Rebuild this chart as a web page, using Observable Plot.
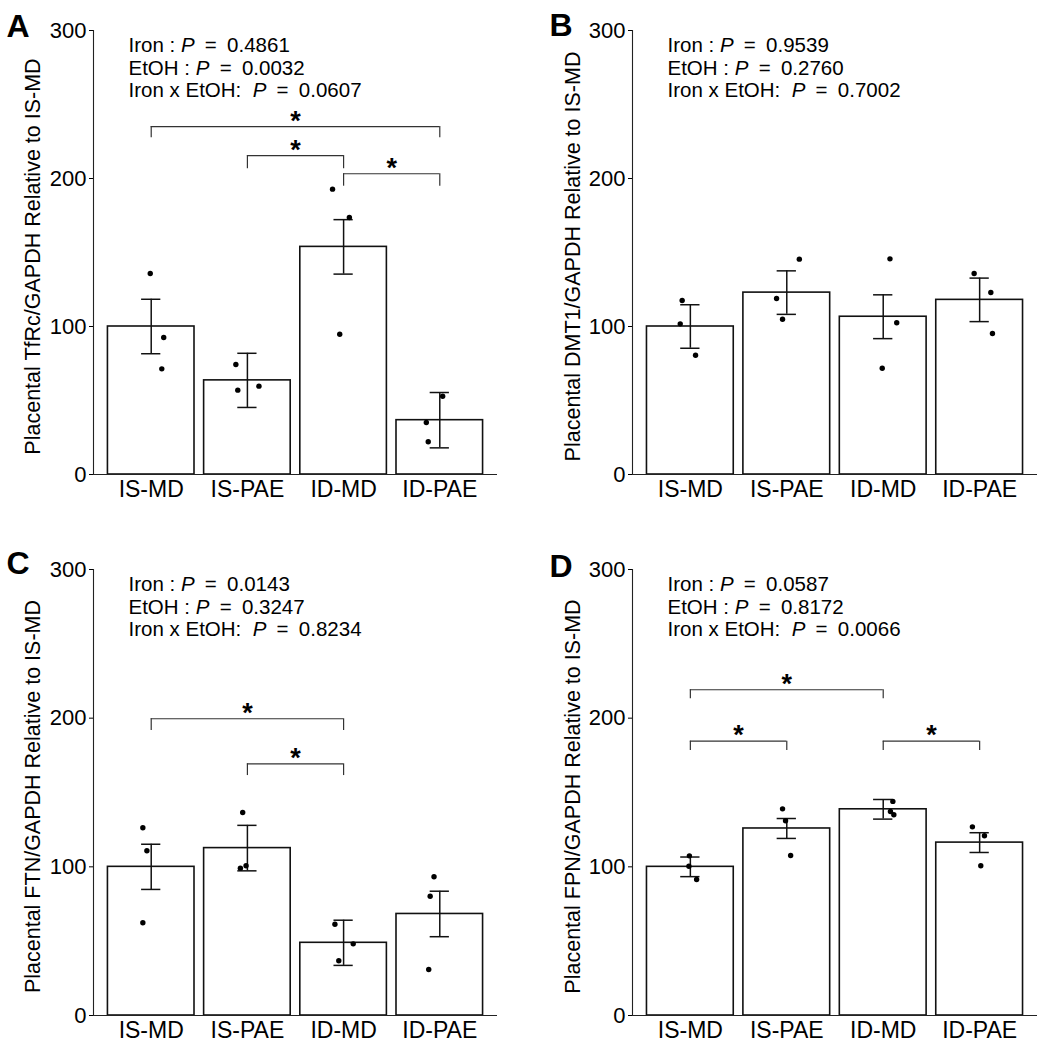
<!DOCTYPE html>
<html><head><meta charset="utf-8">
<script src="https://cdn.jsdelivr.net/npm/d3@7"></script>
<script src="https://cdn.jsdelivr.net/npm/@observablehq/plot@0.6"></script>
<style>
body{margin:0;background:#fff;}
#wrap{position:relative;width:1050px;height:1048px;font-family:Arial,"Liberation Sans",sans-serif;}
#wrap svg{position:absolute;}
</style></head><body><div id="wrap"></div>
<script>
const groups = ["IS-MD", "IS-PAE", "ID-MD", "ID-PAE"];
const yTicks = [0, 100, 200, 300];
const statTerms = ["Iron : ", "EtOH : ", "Iron x EtOH:  "];

// Panel A — TfRc
const tfrcMean = [100, 63.6, 153.8, 36.7];
const tfrcSE = [18.4, 18.3, 18.4, 18.7];
const tfrcPoints = [[135.8, 92.6, 71.4], [74.3, 57.0, 59.7], [192.8, 173.6, 94.8], [52.9, 35.1, 22.1]];
const tfrcJitter = [[-0.01, 0.13, 0.11], [-0.12, -0.10, 0.12], [-0.115, 0.06, -0.04], [0.03, -0.14, -0.12]];
const tfrcP = ["0.4861", "0.0032", "0.0607"];
const tfrcBrackets = [
  {from: "IS-MD", to: "ID-PAE", y: 235.1, tip: 227.5},
  {from: "IS-PAE", to: "ID-MD", y: 215.5, tip: 206.6},
  {from: "ID-MD", to: "ID-PAE", y: 203.2, tip: 194.8}
];

// Panel B — DMT1
const dmt1Mean = [100, 122.9, 106.6, 118.0];
const dmt1SE = [14.7, 14.7, 14.8, 14.7];
const dmt1Points = [[117.6, 101.8, 80.6], [145.5, 118.9, 104.9], [145.7, 102.5, 71.8], [135.8, 123.0, 95.3]];
const dmt1Jitter = [[-0.085, -0.105, 0.054], [0.13, -0.106, -0.044], [0.07, 0.14, -0.01], [-0.057, 0.116, 0.133]];
const dmt1P = ["0.9539", "0.2760", "0.7002"];
const dmt1Brackets = [];

// Panel C — FTN
const ftnMean = [100, 112.6, 48.9, 68.3];
const ftnSE = [15.2, 15.3, 15.2, 15.3];
const ftnPoints = [[126.3, 110.8, 62.4], [136.5, 99.1, 100.7], [61.4, 48.2, 36.8], [93.3, 80.2, 30.9]];
const ftnJitter = [[-0.087, -0.045, -0.087], [-0.049, -0.073, -0.014], [-0.09, 0.10, -0.05], [-0.06, -0.10, -0.115]];
const ftnP = ["0.0143", "0.3247", "0.8234"];
const ftnBrackets = [
  {from: "IS-MD", to: "ID-MD", y: 199.6, tip: 191.7},
  {from: "IS-PAE", to: "ID-MD", y: 169.3, tip: 161.4}
];

// Panel D — FPN
const fpnMean = [100, 125.8, 138.7, 116.3];
const fpnSE = [6.6, 6.7, 6.6, 6.65];
const fpnPoints = [[107.4, 100.4, 91.5], [139.0, 131.0, 107.6], [144.0, 137.2, 135.0], [126.9, 120.9, 100.7]];
const fpnJitter = [[-0.01, -0.015, 0.065], [-0.044, -0.013, 0.04], [0.10, 0.075, 0.11], [-0.075, 0.05, 0.012]];
const fpnP = ["0.0587", "0.8172", "0.0066"];
const fpnBrackets = [
  {from: "IS-MD", to: "ID-MD", y: 219.1, tip: 213.0},
  {from: "IS-MD", to: "IS-PAE", y: 184.5, tip: 178.3},
  {from: "ID-MD", to: "ID-PAE", y: 184.5, tip: 178.3}
];

const FONT = "Arial, 'Liberation Sans', sans-serif";
const SVGNS = "http://www.w3.org/2000/svg";
const wrap = document.getElementById("wrap");

function panel(cfg) {
  const {letter, ylabel, mean, se, points, jitter, pvals, brackets,
         left, top, width, height, marginLeft, marginRight, marginTop, marginBottom,
         letterDx, letterDy, titleDx, titleDy} = cfg;
  const pos = g => groups.indexOf(g) + 1;
  const bars = groups.map((g, i) => ({g, i: i + 1, mean: mean[i], se: se[i]}));
  const dots = groups.flatMap((g, i) => points[i].map((v, j) => ({x: i + 1 + jitter[i][j], v})));
  const br = brackets.map(b => ({x1: pos(b.from), x2: pos(b.to), y: b.y, tip: b.tip}));
  const tips = br.flatMap(b => [{x: b.x1, y1: b.tip, y2: b.y}, {x: b.x2, y1: b.tip, y2: b.y}]);
  const ink = "#111";
  const statMarks = statTerms.map((term, k) =>
    Plot.text([term + "P\u2002=\u2002" + pvals[k]], {text: d => d, frameAnchor: "top-left", dx: 35, dy: 7 + k * 22.6,
      lineAnchor: "top", textAnchor: "start", fontSize: 20.5, fill: "#000"}));
  const svg = Plot.plot({
    width, height, marginLeft, marginRight, marginTop, marginBottom,
    style: {fontFamily: FONT, fontSize: "22px", color: "#000", background: "transparent", overflow: "visible"},
    x: {domain: [0.4, 4.6]},
    y: {domain: [0, 300]},
    marks: [
      Plot.axisX({ticks: groups.map((g, i) => i + 1), tickFormat: d => groups[d - 1], tickSize: 0, tickPadding: 6, fontSize: 23, label: null}),
      Plot.axisY({ticks: yTicks, tickSize: 4, tickPadding: 3, fontSize: 22, label: null}),
      Plot.rectY(bars, {x1: d => d.i - 0.45, x2: d => d.i + 0.45, y1: 0, y2: "mean", fill: "white", stroke: ink, strokeWidth: 1.6}),
      Plot.ruleX(bars, {x: "i", y1: d => d.mean - d.se, y2: d => d.mean + d.se, stroke: ink, strokeWidth: 1.5}),
      Plot.ruleY(bars, {y: d => d.mean + d.se, x1: d => d.i - 0.1, x2: d => d.i + 0.1, stroke: ink, strokeWidth: 1.5}),
      Plot.ruleY(bars, {y: d => d.mean - d.se, x1: d => d.i - 0.1, x2: d => d.i + 0.1, stroke: ink, strokeWidth: 1.5}),
      Plot.dot(dots, {x: "x", y: "v", r: 2.7, fill: "#000", stroke: null}),
      Plot.ruleY(br, {y: "y", x1: "x1", x2: "x2", stroke: "#333", strokeWidth: 1.2}),
      Plot.ruleX(tips, {x: "x", y1: "y1", y2: "y2", stroke: "#333", strokeWidth: 1.2}),
      Plot.text(br, {x: d => (d.x1 + d.x2) / 2, y: "y", text: () => "*", fontSize: 27, fontWeight: "bold", lineAnchor: "bottom", dy: 3, fill: "#000"}),
      Plot.ruleX([0.4], {stroke: "#222", strokeWidth: 1.1}),
      Plot.ruleY([0], {stroke: "#222", strokeWidth: 1.1}),
      ...statMarks,
      Plot.text([ylabel], {text: d => d, frameAnchor: "left", rotate: -90, dx: titleDx, dy: titleDy, textAnchor: "middle", lineAnchor: "middle", fontSize: 21.5, fill: "#000"}),
      Plot.text([letter], {text: d => d, frameAnchor: "top-left", dx: letterDx, dy: letterDy, lineAnchor: "bottom", textAnchor: "start", fontSize: 32, fontWeight: "bold", fill: "#000"})
    ]
  });
  // italic P in statistics lines (sibling tspans inside one text element)
  for (const t of svg.querySelectorAll("text")) {
    if (t.children.length) continue;
    const s = t.textContent;
    const k = s.indexOf("P\u2002=");
    if (k < 0) continue;
    t.textContent = "";
    const parts = [[s.slice(0, k), null], ["P", "italic"], [s.slice(k + 1), null]];
    for (const [str, style] of parts) {
      const sp = document.createElementNS(SVGNS, "tspan");
      if (style) sp.setAttribute("font-style", style);
      sp.textContent = str;
      t.appendChild(sp);
    }
  }
  svg.style.left = left + "px";
  svg.style.top = top + "px";
  wrap.appendChild(svg);
}

panel({letter: "A", ylabel: "Placental TfRc/GAPDH Relative to IS-MD", mean: tfrcMean, se: tfrcSE, points: tfrcPoints, jitter: tfrcJitter, pvals: tfrcP, brackets: tfrcBrackets,
  left: 0, top: 0, width: 525, height: 524, marginLeft: 93, marginRight: 28, marginTop: 30, marginBottom: 50, letterDx: -87, letterDy: 6, titleDx: -60, titleDy: 4});
panel({letter: "B", ylabel: "Placental DMT1/GAPDH Relative to IS-MD", mean: dmt1Mean, se: dmt1SE, points: dmt1Points, jitter: dmt1Jitter, pvals: dmt1P, brackets: dmt1Brackets,
  left: 525, top: 0, width: 525, height: 524, marginLeft: 107, marginRight: 13, marginTop: 30, marginBottom: 50, letterDx: -83, letterDy: 5, titleDx: -59, titleDy: 4});
panel({letter: "C", ylabel: "Placental FTN/GAPDH Relative to IS-MD", mean: ftnMean, se: ftnSE, points: ftnPoints, jitter: ftnJitter, pvals: ftnP, brackets: ftnBrackets,
  left: 0, top: 539, width: 525, height: 509, marginLeft: 93, marginRight: 28, marginTop: 30, marginBottom: 33, letterDx: -87, letterDy: 4, titleDx: -60, titleDy: 4});
panel({letter: "D", ylabel: "Placental FPN/GAPDH Relative to IS-MD", mean: fpnMean, se: fpnSE, points: fpnPoints, jitter: fpnJitter, pvals: fpnP, brackets: fpnBrackets,
  left: 525, top: 539, width: 525, height: 509, marginLeft: 107, marginRight: 13, marginTop: 30, marginBottom: 33, letterDx: -83, letterDy: 7, titleDx: -59, titleDy: 4});
</script>
</body></html>
